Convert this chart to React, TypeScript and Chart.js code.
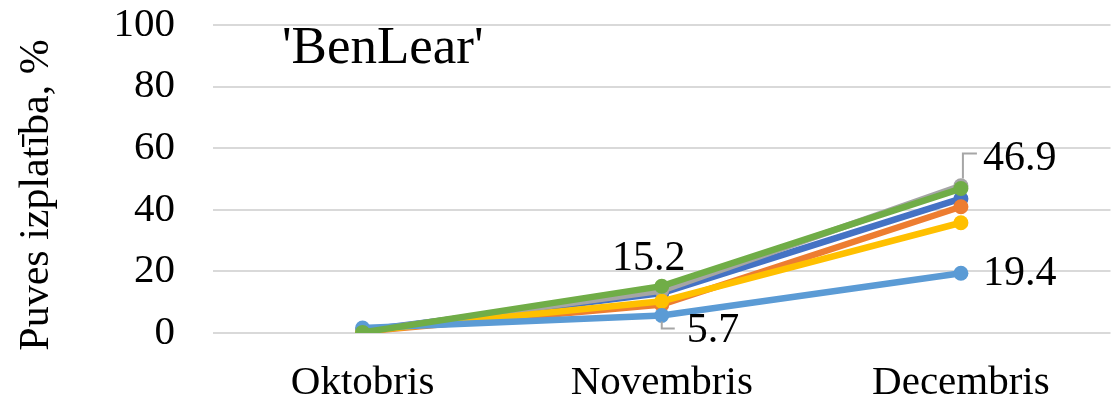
import React, { useEffect, useRef } from "react";
import { Chart, registerables } from "chart.js";

Chart.register(...registerables);

const categories = ["Oktobris", "Novembris", "Decembris"];
const seriesBlue = [0.8, 13.0, 43.6];
const seriesOrange = [0.5, 9.2, 41.0];
const seriesGray = [0.5, 13.8, 47.8];
const seriesYellow = [0.6, 10.3, 35.8];
const seriesLightBlue = [1.6, 5.7, 19.4];
const seriesGreen = [0.2, 15.2, 46.9];
const yTicks = [0, 20, 40, 60, 80, 100];
const titleText = "'BenLear'";
const yAxisTitle = "Puves izplatība, %";

const FONT = "'Liberation Serif', 'Times New Roman', serif";

const colors = ["#4472C4", "#ED7D31", "#A5A5A5", "#FFC000", "#5B9BD5", "#70AD47"];
const allSeries = [seriesBlue, seriesOrange, seriesGray, seriesYellow, seriesLightBlue, seriesGreen];

const labelSpecs: Array<{ ds: number; idx: number; dx: number; dy: number; align: CanvasTextAlign; leader?: number[][] }> = [
  { ds: 5, idx: 1, dx: -13, dy: -27, align: "center" },
  { ds: 4, idx: 1, dx: 25, dy: 16, align: "left", leader: [[0, 6], [0, 13], [13, 13]] },
  { ds: 5, idx: 2, dx: 22, dy: -30, align: "left", leader: [[2, -10], [2, -35], [16, -35]] },
  { ds: 4, idx: 2, dx: 22, dy: 1, align: "left" },
];

const overlayPlugin = {
  id: "overlay",
  afterDatasetsDraw(chart: any) {
    const ctx = chart.ctx;
    const area = chart.chartArea;
    ctx.save();
    ctx.fillStyle = "#000";
    ctx.font = `53px ${FONT}`;
    ctx.textAlign = "left";
    ctx.textBaseline = "alphabetic";
    ctx.fillText(titleText, area.left + 69, area.top + 38);

    // y axis title
    ctx.save();
    ctx.translate(37, 195);
    ctx.rotate(-Math.PI / 2);
    ctx.font = `42px ${FONT}`;
    ctx.textAlign = "center";
    ctx.textBaseline = "middle";
    ctx.fillText(yAxisTitle, 0, 0);
    ctx.restore();

    ctx.font = `42px ${FONT}`;
    ctx.textBaseline = "middle";
    for (const s of labelSpecs) {
      const meta = chart.getDatasetMeta(s.ds);
      const pt = meta.data[s.idx];
      const value = allSeries[s.ds][s.idx];
      if (s.leader) {
        ctx.strokeStyle = "#A6A6A6";
        ctx.lineWidth = 2;
        ctx.beginPath();
        s.leader.forEach((p, i) => {
          const x = pt.x + p[0];
          const y = pt.y + p[1];
          if (i === 0) ctx.moveTo(x, y);
          else ctx.lineTo(x, y);
        });
        ctx.stroke();
      }
      ctx.textAlign = s.align;
      ctx.fillStyle = "#000";
      ctx.fillText(value.toFixed(1), pt.x + s.dx, pt.y + s.dy);
    }
    ctx.restore();
  },
};

export default function App() {
  const ref = useRef<HTMLCanvasElement | null>(null);
  useEffect(() => {
    if (!ref.current) return;
    const datasets = allSeries.map((data, i) => ({
      label: `S${i + 1}`,
      data,
      borderColor: colors[i],
      backgroundColor: colors[i],
      pointBackgroundColor: colors[i],
      pointBorderColor: colors[i],
      borderWidth: 6.5,
      pointRadius: 7.5,
      pointBorderWidth: 0,
      order: allSeries.length - 1 - i,
      tension: 0,
    }));
    const chart = new Chart(ref.current, {
      type: "line",
      data: { labels: categories, datasets },
      options: {
        responsive: false,
        animation: false,
        layout: { padding: { top: 25, right: 7, left: 0, bottom: 0 } },
        plugins: { legend: { display: false }, tooltip: { enabled: false } },
        scales: {
          x: {
            offset: true,
            grid: { display: false, drawTicks: false },
            border: { display: false },
            ticks: { color: "#000", font: { family: FONT, size: 41 }, padding: 26, maxRotation: 0 },
            afterFit(scale: any) {
              scale.height = 71;
              scale.paddingLeft = 0;
              scale.paddingRight = 0;
            },
          },
          y: {
            min: 0,
            max: 100,
            afterBuildTicks(scale: any) {
              scale.ticks = yTicks.map((v) => ({ value: v }));
            },
            grid: { color: "#D9D9D9", lineWidth: 2, drawTicks: false },
            border: { display: false },
            ticks: { color: "#000", font: { family: FONT, size: 41 }, padding: 38 },
            afterFit(scale: any) {
              scale.width = 213;
              scale.paddingTop = 0;
              scale.paddingBottom = 0;
            },
          },
        },
      },
      plugins: [overlayPlugin],
    });
    return () => chart.destroy();
  }, []);
  return (
    <div style={{ position: "absolute", left: 0, top: 0, width: 1118, height: 404, background: "#fff" }}>
      <canvas ref={ref} width={1118} height={404} />
    </div>
  );
}
